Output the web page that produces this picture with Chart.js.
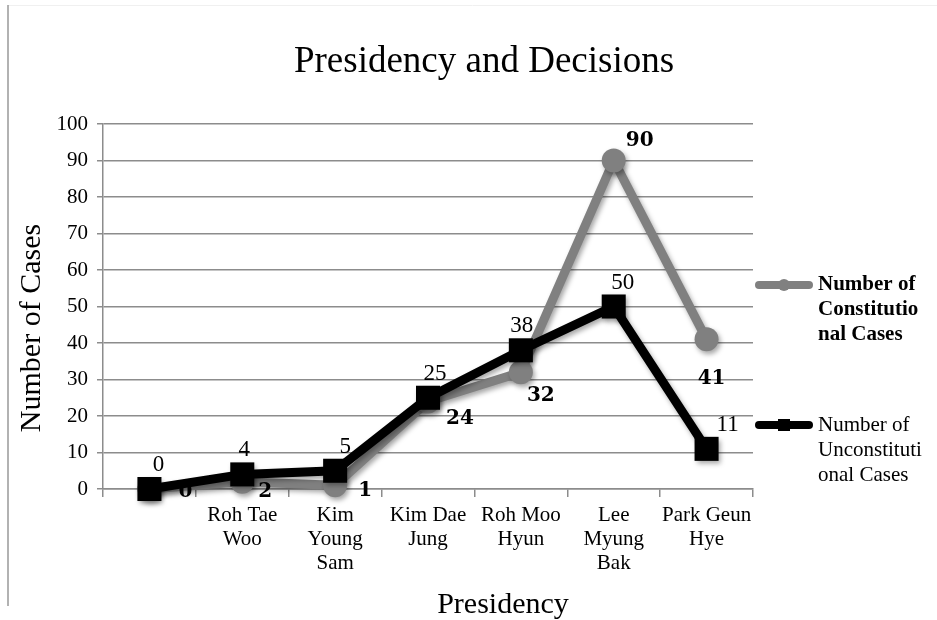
<!DOCTYPE html>
<html>
<head>
<meta charset="utf-8">
<title>Presidency and Decisions</title>
<script src="https://cdn.jsdelivr.net/npm/chart.js@4.4.0/dist/chart.umd.min.js"></script>
<style>
	html, body { margin: 0; padding: 0; background: #fff; }
	#wrap { width: 937px; height: 620px; }
</style>
</head>
<body>
<div id="wrap"><canvas id="myChart" width="937" height="620"></canvas></div>
<script>
// -- DATA ---------------//
const Presidents = ['', ['Roh Tae', 'Woo'], ['Kim', 'Young', 'Sam'], ['Kim Dae', 'Jung'], ['Roh Moo', 'Hyun'], ['Lee', 'Myung', 'Bak'], ['Park Geun', 'Hye']];
const Constitutional = [0, 2, 1, 24, 32, 90, 41];
const Unconstitutional = [0, 4, 5, 25, 38, 50, 11];
const Y_min = 0;
const Y_max = 100;
const Y_step = 10;

const SERIF = '"Liberation Serif", "Times New Roman", serif';
const GRAY = '#808080';
const GRID = '#8c8c8c';

// -- PLUGINS ---------------//
// soft drop shadow under lines and markers
const shadowPlugin = {
	id: 'shadow',
	beforeDatasetsDraw(chart) {
		const ctx = chart.ctx;
		ctx.save();
		ctx.shadowColor = 'rgba(0,0,0,0.35)';
		ctx.shadowBlur = 5;
		ctx.shadowOffsetX = 2;
		ctx.shadowOffsetY = 3;
	},
	afterDatasetsDraw(chart) {
		chart.ctx.restore();
	}
};

// value labels next to each point
const valueLabels = {
	id: 'valueLabels',
	afterDatasetsDraw(chart, args, opts) {
		const ctx = chart.ctx;
		chart.data.datasets.forEach((ds, i) => {
			const meta = chart.getDatasetMeta(i);
			const cfg = opts.series[i];
			ctx.save();
			ctx.font = cfg.font;
			ctx.fillStyle = '#000';
			ctx.textAlign = 'center';
			ctx.textBaseline = 'middle';
			meta.data.forEach((pt, j) => {
				ctx.fillText(String(ds.data[j]), pt.x + cfg.dx[j], pt.y + cfg.dy[j]);
			});
			ctx.restore();
		});
	}
};

// chart title, axis titles, frame and wrapped legend
const decorations = {
	id: 'decorations',
	beforeDraw(chart) {
		const ctx = chart.ctx;
		ctx.save();
		ctx.strokeStyle = '#f0f0f0';
		ctx.lineWidth = 1;
		ctx.beginPath();
		ctx.moveTo(8, 5.5);
		ctx.lineTo(937, 5.5);
		ctx.stroke();
		ctx.strokeStyle = '#999';
		ctx.lineWidth = 1.5;
		ctx.beginPath();
		ctx.moveTo(8, 5);
		ctx.lineTo(8, 606);
		ctx.stroke();
		ctx.restore();
	},
	afterDraw(chart) {
		const ctx = chart.ctx;
		ctx.save();
		ctx.fillStyle = '#000';
		ctx.textAlign = 'center';
		ctx.textBaseline = 'alphabetic';
		ctx.font = '37px ' + SERIF;
		ctx.fillText('Presidency and Decisions', 484, 72);
		ctx.font = '30px ' + SERIF;
		ctx.fillText('Presidency', 503, 613);
		ctx.save();
		ctx.translate(40, 328);
		ctx.rotate(-Math.PI / 2);
		ctx.fillText('Number of Cases', 0, 0);
		ctx.restore();

		// legend
		const items = [
			{ ds: chart.data.datasets[0], y: 285, lines: ['Number of', 'Constitutio', 'nal Cases'], bold: true, marker: 'circle' },
			{ ds: chart.data.datasets[1], y: 425, lines: ['Number of', 'Unconstituti', 'onal Cases'], bold: false, marker: 'rect' },
		];
		items.forEach(it => {
			ctx.strokeStyle = it.ds.borderColor;
			ctx.fillStyle = it.ds.borderColor;
			ctx.lineWidth = 8;
			ctx.lineCap = 'round';
			ctx.beginPath();
			ctx.moveTo(759, it.y);
			ctx.lineTo(809, it.y);
			ctx.stroke();
			ctx.beginPath();
			if (it.marker === 'circle') {
				ctx.arc(784, it.y, 6, 0, Math.PI * 2);
			} else {
				ctx.rect(778, it.y - 6, 12, 12);
			}
			ctx.fill();
			ctx.fillStyle = '#000';
			ctx.textAlign = 'left';
			ctx.textBaseline = 'middle';
			ctx.font = (it.bold ? 'bold ' : '') + '21px ' + SERIF;
			it.lines.forEach((t, k) => ctx.fillText(t, 818, it.y + k * 25));
		});
		ctx.restore();
	}
};

// -- CHART ---------------//
const ctx1 = document.getElementById('myChart').getContext('2d');

const myChart = new Chart(ctx1, {
	type: 'line',
	data: {
		labels: Presidents,
		datasets: [
			{
				label: 'Number of Constitutional Cases',
				data: Constitutional,
				borderColor: GRAY,
				backgroundColor: GRAY,
				borderWidth: 9,
				pointStyle: 'circle',
				pointRadius: 12,
				pointBorderWidth: 0,
				order: 1,
				clip: false,
			},
			{
				label: 'Number of Unconstitutional Cases',
				data: Unconstitutional,
				borderColor: '#000',
				backgroundColor: '#000',
				borderWidth: 9,
				pointStyle: 'rect',
				pointRadius: 17,
				pointBorderWidth: 0,
				order: 0,
				clip: false,
			},
		],
	},
	options: {
		responsive: false,
		maintainAspectRatio: false,
		animation: false,
		layout: {
			padding: { top: 124, right: 184, left: 0, bottom: 0 }
		},
		plugins: {
			legend: { display: false },
			title: { display: false },
			tooltip: { enabled: false },
			valueLabels: {
				series: [
					{ font: 'bold 20px "DejaVu Serif", serif', dx: [36, 23, 30, 32, 20, 26, 5], dy: [3, 10, 5, 17, 24, -20, 39] },
					{ font: '23px ' + SERIF, dx: [9, 2, 10, 7, 1, 9, 21], dy: [-24, -24, -24, -24, -24, -24, -24] },
				]
			}
		},
		scales: {
			x: {
				offset: true,
				afterFit(scale) { scale.height = 131; },
				grid: {
					offset: true,
					drawOnChartArea: false,
					drawTicks: true,
					tickLength: 8,
					color: GRID,
					lineWidth: 1.5,
				},
				border: { color: GRID, width: 1.5 },
				ticks: {
					color: '#000',
					padding: 6,
					maxRotation: 0,
					autoSkip: false,
					font: { family: SERIF, size: 21, lineHeight: 1.15 },
				},
			},
			y: {
				min: Y_min,
				max: Y_max,
				afterFit(scale) { scale.width = 103; },
				grid: {
					color: GRID,
					lineWidth: 1.5,
					tickLength: 6,
				},
				border: { color: GRID, width: 1.5 },
				ticks: {
					stepSize: Y_step,
					color: '#000',
					padding: 9,
					font: { family: SERIF, size: 21 },
				},
			},
		},
	},
	plugins: [shadowPlugin, valueLabels, decorations],
});
</script>
</body>
</html>
